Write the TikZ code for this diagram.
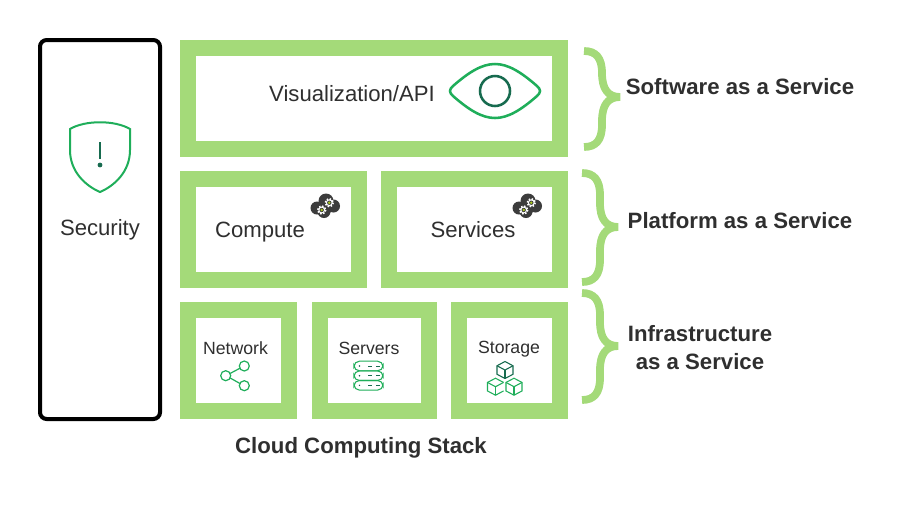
\documentclass[tikz,border=0pt]{standalone}
\usepackage{fontspec}
\setmainfont{Liberation Sans}
\definecolor{lg}{HTML}{A4DA79}
\definecolor{ig}{HTML}{1FAE5A}
\definecolor{dg}{HTML}{176B4F}
\definecolor{tx}{HTML}{2F2F2F}
\definecolor{cl}{HTML}{3C3C3C}
\definecolor{gc}{HTML}{A8C81E}
\tikzset{
  frame/.style={draw=lg,line width=12pt,fill=white,inner sep=0pt,outer sep=0pt},
  lab/.style={text=tx,font=\fontsize{#1}{#1}\selectfont,inner sep=0pt},
  boldlab/.style={text=tx,font=\fontsize{#1}{#1}\selectfont\bfseries,inner sep=0pt,align=center},
  brc/.style={draw=lg,line width=5.8pt,line cap=butt,line join=bevel},
  ico/.style={draw=ig,line width=1.5pt,fill=none},
}
\newcommand{\frm}[4]{\draw[frame] (#1+8,#2+8) rectangle (#3-8,#4-8);}
\newcommand{\mybrc}[4]{%
 \draw[brc] (#1,#2) .. controls (#1+12,#2) and (#1+18,#2+7) .. (#1+18,#2+22)
   -- (#1+18,#3-24) .. controls (#1+18,#3-8) and (#1+24,#3) .. (#1+36,#3)
   .. controls (#1+24,#3) and (#1+18,#3+8) .. (#1+18,#3+24)
   -- (#1+18,#4-22) .. controls (#1+18,#4-7) and (#1+12,#4) .. (#1,#4);}
\newcommand{\gearic}[2]{%
 \fill[white] (#1,#2) circle (3.4);
 \draw[white,line width=1.2pt,dash pattern=on 1.17pt off 1.17pt] (#1,#2) circle (4);
 \fill[cl] (#1,#2) circle (2.2);
 \fill[gc] (#1,#2) circle (1.4);}
\newcommand{\cloudic}[2]{%
 \fill[cl] (#1-8,#2+2) circle (6.5);
 \fill[cl] (#1+1,#2-5) circle (7.5);
 \fill[cl] (#1+8.5,#2+0) circle (6.5);
 \fill[cl] (#1-1,#2+5.5) circle (6.5);
 \fill[cl] (#1+1,#2+1) circle (7);
 \gearic{#1+4.3}{#2-3.3}\gearic{#1-3.3}{#2+4}}
\newcommand{\mycube}[2]{%
 \draw[#1] (#2) ++(0,-8.5) -- ++(8,4.25) -- ++(0,8.5) -- ++(-8,4.25) -- ++(-8,-4.25) -- ++(0,-8.5) -- cycle;
 \draw[#1] (#2) ++(-8,-4.25) -- ++(8,4.25) -- ++(8,-4.25);
 \draw[#1] (#2) -- ++(0,8.5);}
\newcommand{\mycubeopen}[2]{%
 \draw[#1] (#2) ++(8,-4.25) -- ++(-8,-4.25) -- ++(-8,4.25) -- ++(0,8.5) -- ++(8,4.25) -- ++(8,-4.25);
 \draw[#1] (#2) ++(-8,-4.25) -- ++(8,4.25) -- ++(8,-4.25);
 \draw[#1] (#2) -- ++(0,8.5);}
\begin{document}
\begin{tikzpicture}[x=0.75pt,y=-0.75pt]
\useasboundingbox (0,0) rectangle (900,519);
% security
\draw[black,line width=3pt,rounded corners=5pt] (40,40) rectangle (160,419);
\draw[ico] (70,129) .. controls (85,120) and (115,120) .. (130,129)
  -- (130,150) .. controls (130,172) and (114,186) .. (100,192)
  .. controls (86,186) and (70,172) .. (70,150) -- cycle;
\draw[dg,line width=1.9pt] (100,142) -- (100,158.5);
\fill[dg] (100,165) circle (2.4);
\node[lab=16.6] (sec) at (100,230) {Security};
% frames
\frm{180}{40}{568}{156.5}
\frm{180}{171}{367}{287.5}
\frm{381}{171}{568}{287.5}
\frm{180}{302}{297}{418.5}
\frm{312}{302}{437}{418.5}
\frm{451}{302}{568}{418.5}
% labels
\node[lab=16.6] (vis) at (352,94) {Visualization/API};
\node[lab=16.6] (cmp) at (260,232) {Compute};
\node[lab=16.6] (srv) at (473,230) {Services};
\node[lab=13.25] (net) at (235.5,348) {Network};
\node[lab=13.25] (ser) at (369,348) {Servers};
\node[lab=13.25] (sto) at (509,349.5) {Storage};
% eye
\draw[draw=ig,line width=1.9pt] (453,86) .. controls (469,72) and (482,64) .. (495,64)
  .. controls (508,64) and (521,72) .. (537,86)
  .. controls (541,89.5) and (541,92.5) .. (537,96)
  .. controls (521,110) and (508,118) .. (495,118)
  .. controls (482,118) and (469,110) .. (453,96)
  .. controls (449,92.5) and (449,89.5) .. (453,86) -- cycle;
\draw[dg,line width=1.9pt] (495,91) circle (15);
% clouds
\cloudic{325}{206}
\cloudic{527}{206}
% network icon
\coordinate (n0) at (225.7,375.7);
\coordinate (n1) at (244.3,366);
\coordinate (n2) at (244.3,385.7);
\draw[ico,line width=0.9pt] (n0) circle (5) (n1) circle (5) (n2) circle (5);
\draw[ico,line width=0.9pt] (230.2,373.4) -- (239.8,368.3) (230.2,378) -- (239.8,383.4);
% server icon
\foreach \yy in {366,375.7,385.3}{
  \draw[draw=ig,line width=0.8pt,rounded corners=4pt] (354,\yy-4.8) rectangle (383,\yy+4.8);
  \fill[dg] (359.5,\yy) circle (0.8);
  \draw[dg,line width=0.55pt] (368,\yy) -- (372,\yy) (376,\yy) -- (380,\yy);
}
% storage icon
\begin{scope}[line width=0.8pt]
\coordinate (c1) at (505,370);
\coordinate (c2) at (495.5,386.7);
\coordinate (c3) at (514,386.7);
\mycube{draw=dg}{c1}
\mycubeopen{draw=ig}{c2}
\mycube{draw=ig}{c3}
\end{scope}
% braces
\mybrc{584}{51}{97}{147}
\mybrc{582}{173}{227}{282}
\mybrc{582}{293}{346}{400}
% right labels
\node[boldlab=16.65] (saas) at (740,87) {Software as a Service};
\node[boldlab=16.65] (paas) at (740,221) {Platform as a Service};
\node[boldlab=16.65] (iaas) at (700,347.5) {Infrastructure\\[4.5pt]as a Service};
\node[boldlab=16.65] (ccs) at (361,447.5) {Cloud Computing Stack};
\end{tikzpicture}
\end{document}
